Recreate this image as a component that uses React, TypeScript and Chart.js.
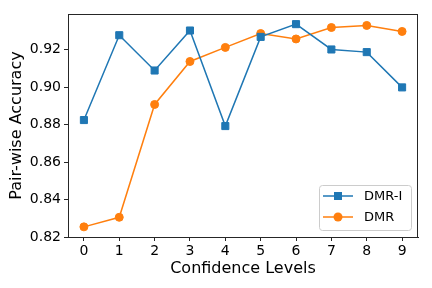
import React, { useEffect, useRef } from "react";
import { Chart, registerables } from "chart.js";

Chart.register(...registerables);

const levels = [0, 1, 2, 3, 4, 5, 6, 7, 8, 9];
const dmrI = [0.8824, 0.9276, 0.9088, 0.9301, 0.8792, 0.9267, 0.9335, 0.92, 0.9186, 0.8998];
const dmr = [0.8255, 0.8306, 0.8907, 0.9136, 0.9211, 0.9285, 0.9256, 0.9317, 0.9328, 0.9296];
const yTicks = [0.82, 0.84, 0.86, 0.88, 0.9, 0.92];
const seriesLabels = ["DMR-I", "DMR"];
const seriesColors = ["#1f77b4", "#ff7f0e"];
const seriesMarkers = ["rect", "circle"];

const FONT = "'DejaVu Sans', sans-serif";

const framePlugin = {
  id: "frame",
  afterDatasetsDraw(chart: any) {
    const { ctx, chartArea } = chart;
    ctx.save();
    ctx.strokeStyle = "#262626";
    ctx.lineWidth = 1;
    ctx.strokeRect(
      Math.round(chartArea.left) + 0.5,
      Math.round(chartArea.top) + 0.5,
      Math.round(chartArea.right - chartArea.left) - 1,
      Math.round(chartArea.bottom - chartArea.top)
    );
    ctx.restore();
  },
};

const legendPlugin = {
  id: "insideLegend",
  afterDraw(chart: any) {
    const { ctx, chartArea } = chart;
    const w = 92;
    const h = 45;
    const x = chartArea.right - 7 - w;
    const y = chartArea.bottom - 7 - h;
    ctx.save();
    ctx.fillStyle = "rgba(255,255,255,0.8)";
    ctx.strokeStyle = "#cccccc";
    ctx.lineWidth = 1;
    ctx.beginPath();
    (ctx as any).roundRect(x + 0.5, y + 0.5, w, h, 3);
    ctx.fill();
    ctx.stroke();
    chart.data.datasets.forEach((ds: any, i: number) => {
      const cy = y + 11 + i * 21;
      const lx0 = x + 4;
      const lx1 = x + 34;
      ctx.strokeStyle = ds.borderColor;
      ctx.lineWidth = 1.5;
      ctx.beginPath();
      ctx.moveTo(lx0, cy);
      ctx.lineTo(lx1, cy);
      ctx.stroke();
      ctx.fillStyle = ds.borderColor;
      const mx = (lx0 + lx1) / 2;
      if (ds.pointStyle === "rect") {
        ctx.fillRect(mx - 4, cy - 4, 8, 8);
      } else {
        ctx.beginPath();
        ctx.arc(mx, cy, 4.5, 0, Math.PI * 2);
        ctx.fill();
      }
      ctx.fillStyle = "#000";
      ctx.font = `13px ${FONT}`;
      ctx.textBaseline = "middle";
      ctx.textAlign = "left";
      ctx.fillText(ds.label, x + 45, cy + 0.5);
    });
    ctx.restore();
  },
};

export default function App() {
  const ref = useRef<HTMLCanvasElement>(null);
  useEffect(() => {
    const makeData = (vals: number[]) => levels.map((l, i) => ({ x: l, y: vals[i] }));
    const chart = new Chart(ref.current!, {
      type: "line",
      data: {
        datasets: [dmrI, dmr].map((vals, i) => ({
          label: seriesLabels[i],
          data: makeData(vals),
          borderColor: seriesColors[i],
          backgroundColor: seriesColors[i],
          pointBackgroundColor: seriesColors[i],
          pointBorderColor: seriesColors[i],
          pointBorderWidth: 1,
          pointStyle: seriesMarkers[i] as any,
          pointRadius: i === 0 ? 5 : 4,
          borderWidth: 1.5,
          tension: 0,
          fill: false,
        })),
      },
      options: {
        animation: false,
        responsive: false,
        devicePixelRatio: 1,
        layout: { padding: { left: 0, right: 14, top: 14, bottom: 0 } },
        plugins: { legend: { display: false }, tooltip: { enabled: false } },
        scales: {
          x: {
            type: "linear",
            min: -0.45,
            max: 9.45,
            afterFit: (s: any) => { s.height = 51; },
            afterBuildTicks: (s: any) => { s.ticks = levels.map((v) => ({ value: v })); },
            grid: { drawOnChartArea: false, drawTicks: true, tickLength: 4, tickColor: "#262626", color: "#262626" },
            border: { display: true, color: "#262626", width: 1 },
            ticks: { color: "#000", font: { family: FONT, size: 14 }, padding: 2, maxRotation: 0, callback: (v: any) => String(v) },
            title: { display: true, text: "Confidence Levels", color: "#000", font: { family: FONT, size: 16 }, padding: { top: 0, bottom: 10 } },
          },
          y: {
            type: "linear",
            min: 0.8201,
            max: 0.9389,
            afterFit: (s: any) => { s.width = 68; },
            afterBuildTicks: (s: any) => { s.ticks = yTicks.map((v) => ({ value: v })); },
            grid: { drawOnChartArea: false, drawTicks: true, tickLength: 4, tickColor: "#262626", color: "#262626" },
            border: { display: true, color: "#262626", width: 1 },
            ticks: { color: "#000", font: { family: FONT, size: 14 }, padding: 3, callback: (v: any) => Number(v).toFixed(2) },
            title: { display: true, text: "Pair-wise Accuracy", color: "#000", font: { family: FONT, size: 16 }, padding: { top: 7, bottom: 0 } },
          },
        },
      },
      plugins: [framePlugin, legendPlugin],
    });
    return () => chart.destroy();
  }, []);
  return (
    <div style={{ position: "fixed", left: 0, top: 0, width: 432, height: 288, background: "#fff" }}>
      <canvas ref={ref} width={432} height={288} style={{ width: 432, height: 288 }} />
    </div>
  );
}
